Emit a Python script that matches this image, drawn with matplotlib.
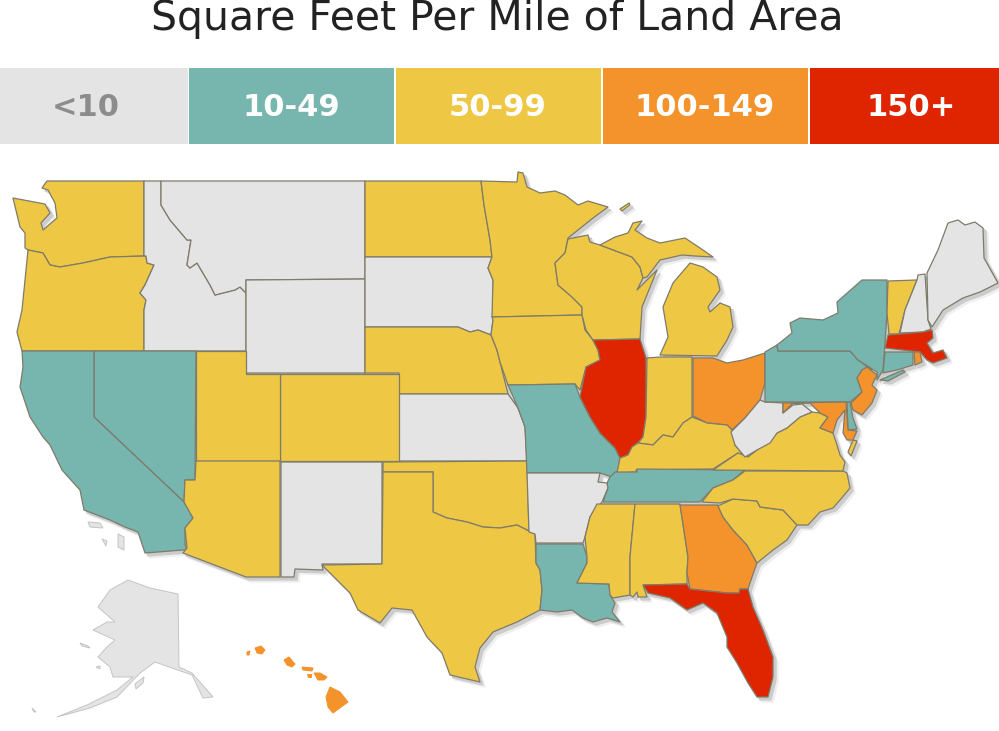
import matplotlib
matplotlib.use("Agg")
import matplotlib.pyplot as plt
from matplotlib.patches import Polygon, Rectangle

title = "Square Feet Per Mile of Land Area"
bin_labels = ["<10", "10-49", "50-99", "100-149", "150+"]
bin_colors = ["#E4E4E4", "#77B5AF", "#EEC845", "#F4922B", "#DF2500"]
bin_text_colors = ["#8C8C8C", "#FFFFFF", "#FFFFFF", "#FFFFFF", "#FFFFFF"]
bin_left = [0, 189, 396, 603, 810]
bin_right = [188, 394, 601, 808, 999]
label_x = [86, 291, 498, 705, 911]

# which bin every state is in (index into bin_labels)
state_bin = {
    "WA": 2, "OR": 2, "CA": 1, "NV": 1, "ID": 0, "MT": 0, "WY": 0, "UT": 2, "AZ": 2,
    "CO": 2, "NM": 0, "ND": 2, "SD": 0, "NE": 2, "KS": 0, "OK": 2, "TX": 2, "MN": 2,
    "IA": 2, "MO": 1, "AR": 0, "LA": 1, "WI": 2, "IL": 4, "MI": 2, "MIU": 2, "MIR": 2, "IN": 2,
    "OH": 3, "KY": 2, "TN": 1, "MS": 2, "AL": 2, "GA": 3, "FL": 4, "SC": 2, "NC": 2,
    "VA": 2, "VAE": 2, "WV": 0, "PA": 1, "NY": 1, "LI": 1, "VT": 2, "NH": 0, "ME": 0,
    "MA": 4, "CT": 1, "RI": 3, "NJ": 3, "DE": 1, "MD": 3,
}
island_bin = {"AK": 0, "AK2": 0, "AK3": 0, "AK4": 0, "AK5": 0, "CA2": 0, "CA3": 0, "CA4": 0,
              "HI1": 3, "HI2": 3, "HI3": 3, "HI4": 3, "HI5": 3, "HI6": 3, "HI7": 3}

# outlines, in picture pixels
outlines = {
    "WA": [(47,181),(144,181),(144,256),(110,257),(83,263),(60,267),(50,265),(43,253),(28,250),(25,248),(25,233),(20,227),(13,198),(45,204),(50,213),(41,223),(43,230),(57,218),(55,203),(48,190),(42,188)],
    "OR": [(28,250),(43,253),(50,265),(60,267),(83,263),(110,257),(146,256),(147,263),(154,265),(145,285),(140,293),(146,300),(144,310),(144,351),(22,351),(17,332),(22,310),(26,270)],
    "ID": [(144,181),(161,181),(161,205),(170,220),(187,240),(191,240),(187,265),(190,268),(197,263),(210,285),(215,295),(235,290),(240,287),(246,293),(246,351),(144,351),(144,310),(146,300),(140,293),(145,285),(154,265),(147,263),(146,256),(144,256)],
    "MT": [(161,181),(365,181),(365,279),(246,280),(246,293),(240,287),(235,290),(215,295),(210,285),(197,263),(190,268),(187,265),(191,240),(187,240),(170,220),(161,205)],
    "WY": [(246,280),(365,279),(365,373),(246,373)],
    "ND": [(365,181),(481,181),(484,205),(490,240),(492,257),(365,257)],
    "SD": [(365,257),(492,257),(488,268),(493,280),(493,320),(491,335),(478,330),(470,332),(458,327),(365,327)],
    "NE": [(365,327),(458,327),(470,332),(478,330),(491,335),(497,350),(500,362),(508,394),(399,394),(399,373),(365,373)],
    "KS": [(399,394),(508,394),(518,408),(525,427),(527,461),(399,461)],
    "CO": [(280,374),(399,374),(399,461),(280,461)],
    "UT": [(196,351),(246,351),(246,374),(280,374),(280,461),(196,461)],
    "NV": [(94,351),(196,351),(195,480),(185,480),(184,502),(94,417)],
    "CA": [(22,351),(94,351),(94,417),(184,502),(190,512),(193,518),(185,528),(185,545),(187,550),(183,550),(145,553),(138,532),(125,527),(110,520),(84,510),(80,490),(62,470),(50,445),(43,437),(30,417),(20,387),(23,367)],
    "AZ": [(196,461),(280,461),(280,577),(246,577),(183,553),(187,548),(185,528),(193,518),(184,502),(185,480),(195,480)],
    "NM": [(281,462),(382,462),(382,564),(322,564),(323,570),(295,569),(294,577),(281,577)],
    "OK": [(383,462),(527,461),(529,532),(535,534),(517,525),(500,528),(483,527),(467,522),(447,518),(433,512),(433,472),(383,472)],
    "TX": [(383,472),(433,472),(433,512),(447,518),(467,522),(483,527),(500,528),(517,525),(535,534),(536,563),(540,570),(542,590),(540,610),(517,622),(493,632),(480,648),(475,667),(480,682),(450,675),(442,653),(427,637),(412,610),(392,608),(380,623),(358,610),(350,593),(322,565),(382,564)],
    "MN": [(481,181),(517,182),(518,172),(523,173),(527,187),(540,193),(555,191),(565,195),(578,205),(588,201),(608,207),(593,218),(568,238),(565,253),(555,263),(558,285),(572,297),(582,307),(582,315),(492,317),(493,280),(488,268),(492,257),(490,240),(484,205)],
    "IA": [(492,317),(582,315),(585,330),(593,340),(598,350),(600,360),(586,367),(580,390),(575,384),(508,385),(500,362),(497,350),(491,335),(493,320)],
    "MO": [(508,385),(575,384),(580,397),(590,417),(600,433),(615,448),(620,458),(618,470),(612,477),(600,473),(527,473),(525,427),(518,408)],
    "AR": [(527,473),(600,473),(598,482),(607,483),(608,488),(602,502),(590,517),(585,537),(583,543),(536,543),(535,534),(529,532)],
    "LA": [(536,544),(583,544),(587,557),(587,563),(577,583),(609,584),(610,595),(615,603),(612,612),(620,622),(607,618),(593,622),(583,618),(572,610),(557,612),(540,610),(542,590),(540,570),(536,563)],
    "WI": [(568,239),(588,235),(590,242),(600,245),(632,257),(640,267),(643,278),(637,290),(657,270),(642,307),(640,339),(593,340),(586,330),(582,315),(582,307),(572,297),(558,285),(555,263),(565,253)],
    "MIU": [(600,245),(615,237),(628,233),(633,223),(642,221),(635,230),(647,238),(660,243),(685,238),(700,248),(713,257),(695,256),(682,255),(660,260),(647,277),(643,278),(640,267),(632,257)],
    "MIR": [(620,209),(629,203),(630,205),(622,211)],
    "MI": [(660,355),(668,337),(663,307),(673,283),(690,263),(703,267),(717,277),(720,290),(708,307),(710,312),(720,303),(730,307),(733,327),(727,340),(717,356)],
    "IL": [(593,340),(640,339),(646,358),(646,417),(643,437),(638,443),(632,447),(628,455),(620,458),(615,448),(600,433),(590,417),(580,397),(586,367),(600,360),(598,350)],
    "IN": [(647,358),(660,357),(692,357),(692,417),(683,423),(673,437),(663,435),(653,445),(638,443),(643,437),(646,417)],
    "OH": [(693,358),(713,358),(727,363),(743,360),(765,353),(765,383),(760,400),(745,418),(732,430),(727,425),(707,423),(693,416)],
    "KY": [(638,443),(653,445),(663,435),(673,437),(683,423),(692,417),(707,423),(727,425),(732,430),(735,445),(745,457),(738,453),(713,469),(636,470),(636,472),(617,473),(620,458),(628,455),(632,447)],
    "TN": [(615,472),(637,472),(637,469),(745,470),(733,480),(713,488),(700,502),(603,502),(608,488),(607,483),(610,477)],
    "MS": [(597,504),(635,504),(630,557),(630,595),(613,598),(610,595),(609,584),(577,583),(587,563),(587,557),(585,537),(590,517)],
    "AL": [(635,504),(680,504),(688,557),(687,573),(687,584),(643,585),(647,597),(638,597),(637,592),(633,597),(630,595),(630,557)],
    "GA": [(680,505),(718,505),(723,517),(733,530),(747,545),(757,563),(752,577),(748,589),(740,589),(739,593),(727,593),(690,589),(687,573),(688,557)],
    "FL": [(643,585),(687,584),(690,589),(727,593),(739,593),(740,589),(748,589),(753,607),(763,630),(773,657),(773,677),(768,697),(757,697),(748,683),(737,663),(727,647),(727,637),(717,613),(703,603),(687,610),(670,598),(648,593)],
    "SC": [(718,506),(733,499),(757,501),(760,507),(783,510),(797,525),(787,540),(773,550),(757,563),(747,545),(733,530),(723,517)],
    "NC": [(745,471),(843,471),(847,473),(850,488),(840,500),(833,508),(820,512),(808,525),(797,525),(783,510),(760,507),(757,501),(733,499),(720,503),(702,502),(713,488),(733,480)],
    "VA": [(713,470),(738,453),(748,457),(757,450),(777,433),(787,428),(800,417),(812,412),(820,413),(828,417),(820,428),(833,433),(837,445),(840,455),(845,462),(843,471)],
    "VAE": [(853,440),(857,441),(851,456),(848,452)],
    "WV": [(765,402),(783,403),(783,413),(793,405),(802,404),(812,412),(800,417),(787,428),(777,433),(770,443),(757,450),(745,457),(735,445),(731,432),(745,418),(760,400)],
    "PA": [(765,352),(777,345),(778,351),(850,351),(858,360),(872,370),(862,370),(857,378),(862,392),(850,402),(765,402)],
    "NY": [(778,351),(777,345),(792,333),(790,323),(800,318),(823,320),(838,313),(837,302),(862,280),(887,280),(887,313),(885,343),(883,370),(877,380),(877,372),(858,360),(850,351)],
    "LI": [(880,380),(903,370),(905,372),(888,381)],
    "VT": [(888,281),(917,280),(905,310),(899,334),(889,334),(887,313)],
    "NH": [(918,275),(925,274),(928,320),(931,329),(923,332),(900,333),(905,310),(917,280)],
    "ME": [(927,273),(938,250),(948,223),(958,220),(965,225),(975,222),(983,228),(984,258),(998,283),(980,292),(963,298),(943,310),(932,327),(928,320)],
    "MA": [(888,335),(923,332),(932,330),(933,338),(927,343),(933,353),(943,350),(947,358),(933,363),(927,360),(920,352),(885,348)],
    "CT": [(885,352),(913,352),(913,365),(897,370),(883,373)],
    "RI": [(914,352),(920,352),(922,362),(915,365)],
    "NJ": [(862,370),(867,367),(877,375),(872,385),(877,390),(872,403),(862,415),(853,410),(851,403),(862,392),(857,378)],
    "DE": [(847,402),(850,402),(853,418),(857,429),(848,430)],
    "MD": [(783,403),(846,402),(848,430),(857,431),(853,440),(847,440),(843,433),(845,410),(837,420),(833,433),(820,428),(828,417),(820,413),(810,403),(802,403),(793,403),(783,413)],
}
islands = {
    "AK": [(128,580),(150,588),(178,594),(179,667),(192,673),(213,697),(203,698),(192,675),(172,668),(155,662),(140,673),(117,697),(90,708),(57,717),(87,705),(117,690),(133,677),(113,677),(110,667),(98,657),(107,647),(115,640),(93,630),(107,622),(115,622),(98,607),(110,590)],
    "AK2": [(135,684),(144,677),(143,683),(136,689)],
    "AK3": [(80,643),(88,646),(90,648),(82,646)],
    "AK4": [(96,667),(100,666),(100,669)],
    "AK5": [(32,708),(36,712),(34,712)],
    "CA2": [(88,522),(100,523),(103,528),(90,527)],
    "CA3": [(102,539),(107,541),(106,546)],
    "CA4": [(118,534),(124,537),(124,550),(118,547)],
    "HI1": [(255,648),(261,646),(265,650),(262,654),(257,653)],
    "HI2": [(247,652),(250,651),(249,655),(247,655)],
    "HI3": [(284,660),(289,657),(295,664),(292,667),(287,665)],
    "HI4": [(302,667),(313,668),(312,671),(303,670)],
    "HI5": [(307,674),(311,674),(311,677),(308,677)],
    "HI6": [(314,673),(320,673),(327,677),(324,680),(318,680)],
    "HI7": [(330,687),(340,692),(348,702),(333,713),(328,707),(326,697)],
}

fig = plt.figure(figsize=(9.99, 7.31), dpi=100)
ax = fig.add_axes([0, 0, 1, 1])
ax.set_xlim(0, 999)
ax.set_ylim(731, 0)
ax.axis("off")

ax.text(497, 19, title, ha="center", va="center", fontsize=29.5, color="#222222", family="DejaVu Sans")

for i in range(len(bin_labels)):
    ax.add_patch(Rectangle((bin_left[i], 68), bin_right[i] - bin_left[i], 76, color=bin_colors[i], lw=0))
    ax.text(label_x[i], 107, bin_labels[i], ha="center", va="center",
            fontsize=22, fontweight="bold", color=bin_text_colors[i], family="DejaVu Sans")

# soft shadow under the lower 48
for dx, col in [(5, "#EFEFEF"), (3, "#CCCCCC")]:
    for name in outlines:
        pts = [(x + dx, y + dx) for x, y in outlines[name]]
        ax.add_patch(Polygon(pts, closed=True, fc=col, ec=col, lw=1, zorder=1))

for name in outlines:
    ax.add_patch(Polygon(outlines[name], closed=True, fc=bin_colors[state_bin[name]],
                         ec="#7E7B6A", lw=0.9, joinstyle="round", zorder=2))
for name in islands:
    ec = "#C4C4C4" if island_bin[name] == 0 else bin_colors[island_bin[name]]
    ax.add_patch(Polygon(islands[name], closed=True, fc=bin_colors[island_bin[name]],
                         ec=ec, lw=0.7, zorder=2))

fig.savefig("out.png", dpi=100)
